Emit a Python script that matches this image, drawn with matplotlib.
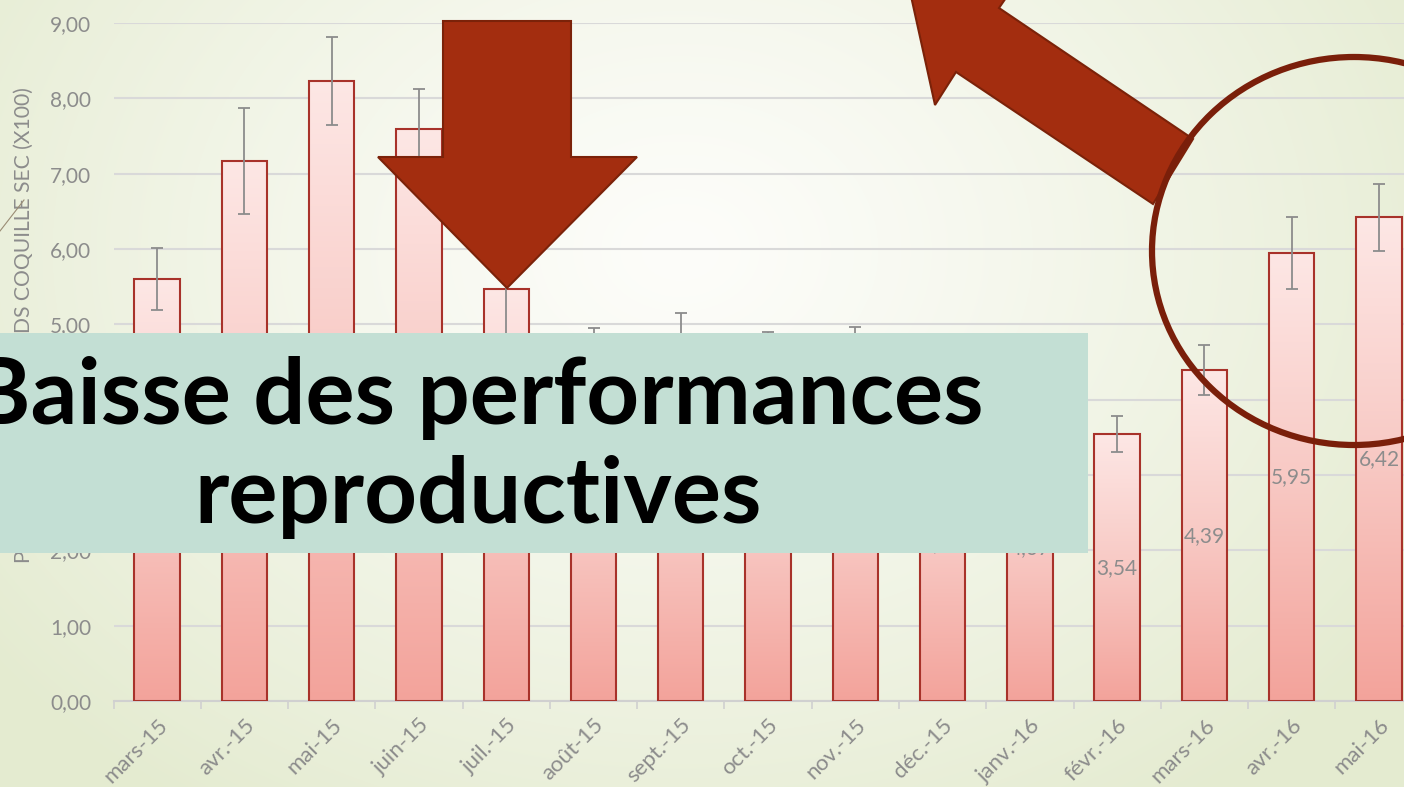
import numpy as np
import matplotlib
matplotlib.use("Agg")
import matplotlib.pyplot as plt
from matplotlib.patches import Polygon, Rectangle, Ellipse
from matplotlib.colors import LinearSegmentedColormap

# Chart data
months = ["mars-15", "avr.-15", "mai-15", "juin-15", "juil.-15", "août-15",
          "sept.-15", "oct.-15", "nov.-15", "déc.-15", "janv.-16", "févr.-16",
          "mars-16", "avr.-16", "mai-16"]
values = [5.60, 7.17, 8.23, 7.59, 5.47, 4.55, 4.60, 4.45, 4.50, 4.17, 4.07,
          3.54, 4.39, 5.95, 6.42]
errors = [0.41, 0.70, 0.59, 0.53, 0.62, 0.40, 0.55, 0.45, 0.46, 0.40, 0.40,
          0.24, 0.33, 0.48, 0.44]
y_ticks = [0, 1, 2, 3, 4, 5, 6, 7, 8, 9]
y_label = "POIDS CHAIR SEC / POIDS COQUILLE SEC (X100)"
title_lines = ["Baisse des performances", "reproductives"]

W, H = 1404, 787
GREY = "#8c8c8c"
FONT = ["Lato", "DejaVu Sans"]


def fmt(v):
    return f"{v:.2f}".replace(".", ",")


def draw_background(fig):
    # soft radial slide background (white centre, pale green edges)
    bg = fig.add_axes([0, 0, 1, 1], zorder=-5)
    yy, xx = np.mgrid[0:H, 0:W]
    d = np.sqrt(((xx - 680) / 880.0) ** 2 + ((yy - 250) / 680.0) ** 2)
    t = np.clip(d, 0, 1)[..., None] ** 1.2
    centre = np.array([253, 253, 250]) / 255.0
    edge = np.array([228, 235, 208]) / 255.0
    bg.imshow(centre * (1 - t) + edge * t, aspect="auto", extent=[0, W, H, 0])
    bg.set_xlim(0, W)
    bg.set_ylim(H, 0)
    bg.axis("off")


def draw_chart(fig):
    left, right, bottom, top = 113.5, 1422.6, 701, 23
    ax = fig.add_axes([left / W, (H - bottom) / H, (right - left) / W,
                       (bottom - top) / H], zorder=1)
    ax.patch.set_alpha(0)
    x = np.arange(len(months))

    bars = ax.bar(x, values, width=0.52, color="none", edgecolor="#a8322a",
                  linewidth=1.5, zorder=3)
    cmap = LinearSegmentedColormap.from_list("bar", ["#f3a39b", "#f8c9c4", "#fde7e5"])
    grad = np.linspace(0, 1, 256).reshape(-1, 1)
    for b in bars:
        im = ax.imshow(grad, extent=[b.get_x(), b.get_x() + b.get_width(), 0, b.get_height()],
                       origin="lower", cmap=cmap, aspect="auto", zorder=2)
        im.set_clip_path(b)

    ax.errorbar(x, values, yerr=errors, fmt="none", ecolor=GREY, elinewidth=1.3,
                capsize=4, capthick=1.3, zorder=4)

    for i, v in enumerate(values):
        ax.text(i, v / 2, fmt(v), ha="center", va="center", color=GREY,
                fontsize=15, family=FONT, zorder=5)

    ax.set_xlim(-0.5, len(months) - 0.5)
    ax.set_ylim(0, 9)
    ax.set_yticks(y_ticks)
    ax.set_yticklabels([fmt(v) for v in y_ticks], color=GREY, fontsize=15, family=FONT)
    ax.set_xticks(x)
    ax.set_xticklabels(months, rotation=45, ha="right", rotation_mode="anchor",
                       color=GREY, fontsize=16, family=FONT)
    ax.set_xticks(np.arange(-0.5, len(months)), minor=True)
    ax.tick_params(axis="x", which="major", length=0, pad=10)
    ax.tick_params(axis="x", which="minor", length=6, color="#d0d0d0", width=1.2)
    ax.tick_params(axis="y", length=0, pad=16)
    ax.yaxis.grid(True, color="#d9d9d9", linewidth=1.5)
    ax.set_axisbelow(True)
    for name, sp in ax.spines.items():
        sp.set_visible(name == "bottom")
    ax.spines["bottom"].set_color("#d0d0d0")
    ax.spines["bottom"].set_linewidth(1.5)
    return ax


def draw_overlay(fig):
    ov = fig.add_axes([0, 0, 1, 1], zorder=10)
    ov.set_xlim(0, W)
    ov.set_ylim(H, 0)
    ov.axis("off")
    ov.patch.set_alpha(0)

    rust, dark = "#a32d0f", "#7b2209"
    ov.add_patch(Polygon([(443, 21), (571, 21), (571, 157), (637, 157), (507, 288),
                          (378, 157), (443, 157)], closed=True,
                         facecolor=rust, edgecolor=dark, linewidth=1.5))
    ov.add_patch(Polygon([(1153, 204), (1193, 139), (999, 8), (1021, -24), (911, -4),
                          (935, 105), (956, 72)], closed=True,
                         facecolor=rust, edgecolor=dark, linewidth=1.5))
    ov.add_patch(Ellipse((1354, 251), 404, 388, fill=False, edgecolor="#7a1f0a",
                         linewidth=4.5))
    ov.plot([0, 24], [231, 200], color="#9a8c74", linewidth=0.8)

    ov.add_patch(Rectangle((0, 333), 1088, 220, facecolor="#c3dfd4", edgecolor="none"))
    t1 = ov.text(477, 424, title_lines[0], ha="center", va="baseline",
                 fontsize=60, fontweight="bold", family=FONT, color="black")
    t2 = ov.text(478, 523, title_lines[1], ha="center", va="baseline",
                 fontsize=60, fontweight="bold", family=FONT, color="black")
    return t1, t2


def main():
    fig = plt.figure(figsize=(W / 100, H / 100), dpi=100)
    draw_background(fig)
    draw_chart(fig)
    ylab = fig.text(24 / W, 1 - 325 / H, y_label, rotation=90, ha="center",
                    va="center", color=GREY, fontsize=12, family=FONT, zorder=3)
    t1, t2 = draw_overlay(fig)

    # scale text to the widths measured on the reference
    renderer = fig.canvas.get_renderer()
    s = 1013 / t1.get_window_extent(renderer).width
    t1.set_fontsize(t1.get_fontsize() * s)
    t2.set_fontsize(t2.get_fontsize() * s)
    ylab.set_fontsize(ylab.get_fontsize() * 474 / ylab.get_window_extent(renderer).height)

    fig.savefig("out.png", dpi=100)


if __name__ == "__main__":
    main()
